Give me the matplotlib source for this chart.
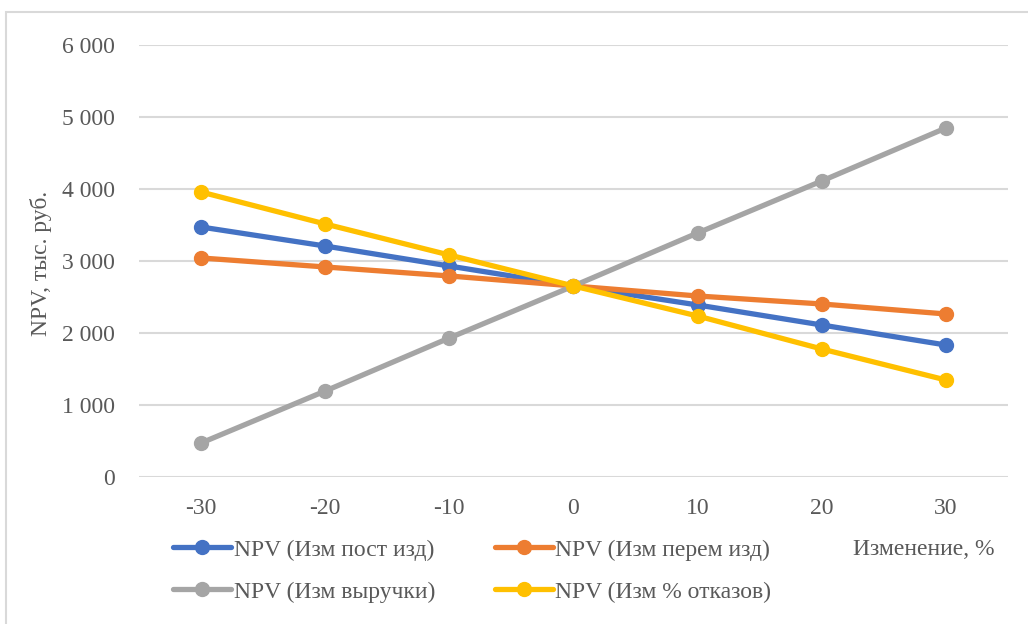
import matplotlib.pyplot as plt
from matplotlib.ticker import FuncFormatter
from matplotlib.patches import Rectangle

plt.rcParams['font.family'] = ['Liberation Serif', 'DejaVu Serif']
plt.rcParams['axes.unicode_minus'] = False

# Изменение параметра, %
changes = [-30, -20, -10, 0, 10, 20, 30]

# NPV, тыс. руб.
npv_fixed = [3472, 3208, 2930, 2653, 2389, 2111, 1833]
npv_variable = [3042, 2917, 2792, 2653, 2514, 2403, 2264]
npv_revenue = [472, 1194, 1931, 2653, 3389, 4111, 4847]
npv_failures = [3958, 3514, 3083, 2653, 2236, 1778, 1347]

labels = ['NPV (Изм пост изд)', 'NPV (Изм перем изд)',
          'NPV (Изм выручки)', 'NPV (Изм % отказов)']
colors = ['#4472c4', '#ed7d31', '#a5a5a5', '#ffc000']
series = [npv_fixed, npv_variable, npv_revenue, npv_failures]

FS = 17
TXT = '#595959'

fig = plt.figure(figsize=(10.28, 6.24), dpi=100)
ax = fig.add_axes([0.1352, 0.2356, 0.8453, 0.6923])

# рамка области диаграммы
fig.patches.append(Rectangle((0.006, -0.1), 1.1, 1.08, transform=fig.transFigure,
                             fill=False, edgecolor='#d9d9d9', linewidth=1.5))

handles = []
for vals, lab, col in zip(series, labels, colors):
    h, = ax.plot(changes, vals, color=col, linewidth=3.8, marker='o',
                 markersize=10, label=lab, solid_capstyle='round')
    handles.append(h)

ax.set_xlim(-35, 35)
ax.set_ylim(0, 6000)
ax.set_xticks(changes)
ax.set_yticks(range(0, 6001, 1000))
ax.yaxis.set_major_formatter(FuncFormatter(lambda v, p: f'{int(v):,}'.replace(',', ' ')))
ax.grid(axis='y', color='#d9d9d9', linewidth=1.5)
ax.set_axisbelow(True)
for s in ax.spines.values():
    s.set_visible(False)
ax.tick_params(length=0, labelsize=FS, labelcolor=TXT)
ax.tick_params(axis='y', pad=17)
ax.tick_params(axis='x', pad=15)

ax.set_ylabel('NPV, тыс. руб.', fontsize=FS, color=TXT)
ax.yaxis.set_label_coords(-0.100, 0.495)

fig.text(0.83, 0.12, 'Изменение, %', fontsize=FS, color=TXT, va='center')

# легенда заполняется по столбцам, поэтому порядок: пост, выручка, перем, отказы
order = [0, 2, 1, 3]
fig.legend(handles=[handles[i] for i in order], loc='center left',
           bbox_to_anchor=(0.148, 0.085), ncol=2, frameon=False, fontsize=FS,
           handlelength=2.45, handletextpad=0.1, columnspacing=2.55,
           labelspacing=0.87, labelcolor=TXT, numpoints=1)

fig.savefig('out.png', dpi=100)
